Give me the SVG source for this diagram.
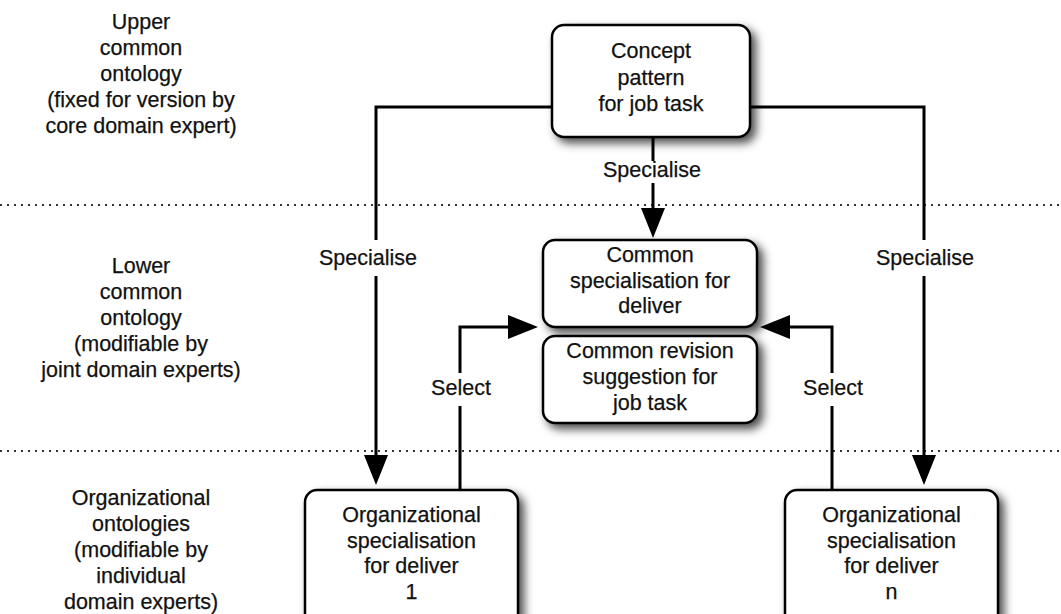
<svg xmlns="http://www.w3.org/2000/svg" width="1061" height="614" viewBox="0 0 1061 614">
  <defs>
    <filter id="shadow" x="-20%" y="-20%" width="150%" height="160%">
      <feDropShadow dx="5" dy="5" stdDeviation="5" flood-color="#000" flood-opacity="0.7"/>
    </filter>
    <marker id="arrow" viewBox="0 0 30 24" refX="20" refY="12" markerWidth="30" markerHeight="24" markerUnits="userSpaceOnUse" orient="auto">
      <path d="M0,0 L30,12 L0,24 Z" fill="#000"/>
    </marker>
  </defs>
  <style>
    text { font-family: "Liberation Sans", Arial, Helvetica, sans-serif; font-size: 21.5px; fill: #111; stroke: #111; stroke-width: 0.25; text-anchor: middle; }
    .box { fill: #fff; stroke: #000; stroke-width: 2.5; filter: url(#shadow); }
    .edge { fill: none; stroke: #000; stroke-width: 3; }
    .divider { stroke: #333; stroke-width: 2; stroke-dasharray: 2 5; }
    .lblbg { fill: #fff; }
  </style>

  <rect width="1061" height="614" fill="#fff"/>

  <!-- layer dividers -->
  <g id="dividers">
    <line class="divider" x1="0" y1="205" x2="1061" y2="205"/>
    <line class="divider" x1="0" y1="451" x2="1061" y2="451"/>
  </g>

  <!-- layer captions -->
  <g id="layer-upper">
    <text x="141" y="29">Upper</text>
    <text x="141" y="55">common</text>
    <text x="141" y="81">ontology</text>
    <text x="141" y="107">(fixed for version by</text>
    <text x="141" y="133">core domain expert)</text>
  </g>
  <g id="layer-lower">
    <text x="141" y="273">Lower</text>
    <text x="141" y="299">common</text>
    <text x="141" y="325">ontology</text>
    <text x="141" y="351">(modifiable by</text>
    <text x="141" y="377">joint domain experts)</text>
  </g>
  <g id="layer-org">
    <text x="141" y="505">Organizational</text>
    <text x="141" y="531">ontologies</text>
    <text x="141" y="557">(modifiable by</text>
    <text x="141" y="583">individual</text>
    <text x="141" y="609">domain experts)</text>
  </g>

  <!-- connectors -->
  <g id="connectors">
    <path class="edge" d="M552,107 H376 V475" marker-end="url(#arrow)"/>
    <path class="edge" d="M750,107 H924 V475" marker-end="url(#arrow)"/>
    <path class="edge" d="M653,137 V228" marker-end="url(#arrow)"/>
    <path class="edge" d="M460,490 V327 H528" marker-end="url(#arrow)"/>
    <path class="edge" d="M832,490 V327 H770" marker-end="url(#arrow)"/>

    <rect class="lblbg" x="316" y="240" width="104" height="36"/>
    <text x="368" y="265">Specialise</text>
    <rect class="lblbg" x="873" y="240" width="104" height="36"/>
    <text x="925" y="265">Specialise</text>
    <rect class="lblbg" x="601" y="161" width="104" height="22"/>
    <text x="652" y="177">Specialise</text>
    <rect class="lblbg" x="428" y="373" width="66" height="33"/>
    <text x="461" y="395">Select</text>
    <rect class="lblbg" x="800" y="373" width="66" height="33"/>
    <text x="833" y="395">Select</text>
  </g>

  <!-- nodes -->
  <g id="concept-pattern">
    <rect class="box" x="552" y="25" width="198" height="112" rx="12"/>
    <text x="651" y="58">Concept</text>
    <text x="651" y="85">pattern</text>
    <text x="651" y="111">for job task</text>
  </g>

  <g id="common-specialisation">
    <rect class="box" x="543" y="240" width="214" height="87" rx="12"/>
    <text x="650" y="262">Common</text>
    <text x="650" y="288">specialisation for</text>
    <text x="650" y="313">deliver</text>
  </g>

  <g id="common-revision">
    <rect class="box" x="543" y="336" width="214" height="87" rx="12"/>
    <text x="650" y="358">Common revision</text>
    <text x="650" y="384">suggestion for</text>
    <text x="650" y="410">job task</text>
  </g>

  <g id="org-spec-1">
    <rect class="box" x="305" y="490" width="213" height="140" rx="12"/>
    <text x="411.5" y="522">Organizational</text>
    <text x="411.5" y="548">specialisation</text>
    <text x="411.5" y="573">for deliver</text>
    <text x="411.5" y="599">1</text>
  </g>

  <g id="org-spec-n">
    <rect class="box" x="785" y="490" width="213" height="140" rx="12"/>
    <text x="891.5" y="522">Organizational</text>
    <text x="891.5" y="548">specialisation</text>
    <text x="891.5" y="573">for deliver</text>
    <text x="891.5" y="599">n</text>
  </g>
</svg>
